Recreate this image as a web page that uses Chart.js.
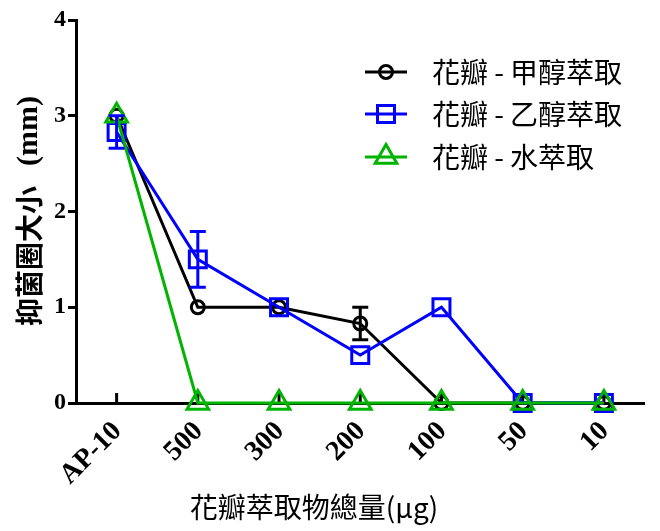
<!DOCTYPE html>
<html>
<head>
<meta charset="utf-8">
<script src="https://cdn.jsdelivr.net/npm/chart.js@4/dist/chart.umd.min.js"></script>
<style>
  html, body { margin: 0; padding: 0; background: #fff; }
  #wrap { width: 660px; height: 531px; }
</style>
</head>
<body>
<div id="wrap"><canvas id="c" width="660" height="531"></canvas></div>
<script>
// Categories: total petal extract amount (µg), plus the AP-10 control
const categories = ['AP-10', '500', '300', '200', '100', '50', '10'];

// Inhibition zone size (mm) per extract
const methanolValues = [3.0, 1.0, 1.0, 0.83, 0, 0, 0];
const methanolErrors = [0, 0, 0, 0.17, 0, 0, 0];
const ethanolValues  = [2.83, 1.5, 1.0, 0.5, 1.0, 0, 0];
const ethanolErrors  = [0.17, 0.29, 0, 0, 0, 0, 0];
const waterValues    = [3.0, 0, 0, 0, 0, 0, 0];
const waterErrors    = [0, 0, 0, 0, 0, 0, 0];

const yTicks = [0, 1, 2, 3, 4];

const seriesNames = ['花瓣-甲醇萃取', '花瓣-乙醇萃取', '花瓣-水萃取'];
const xTitle = '花瓣萃取物總量(μg)';
const yTitleCjk = '抑菌圈大小';
const yTitleUnit = '(mm)';

const BLACK = '#000000';
const BLUE = '#0000ff';
const GREEN = '#00b400';

const CJK = '"Noto Sans CJK TC", "Noto Sans CJK SC", sans-serif';
const SERIF = '"Liberation Serif", "DejaVu Serif", serif';

function makeDataset(label, values, errors, color, style, radius, order) {
  return {
    label: label,
    data: values,
    errors: errors,
    borderColor: color,
    backgroundColor: 'rgba(0,0,0,0)',
    borderWidth: 3,
    pointStyle: style,
    pointRadius: radius,
    pointBorderWidth: 3,
    pointBorderColor: color,
    pointBackgroundColor: 'rgba(0,0,0,0)',
    tension: 0,
    clip: false,
    order: order
  };
}

const datasets = [
  makeDataset(seriesNames[0], methanolValues, methanolErrors, BLACK, 'circle', 6.5, 2),
  makeDataset(seriesNames[1], ethanolValues, ethanolErrors, BLUE, 'rect', 12, 1),
  makeDataset(seriesNames[2], waterValues, waterErrors, GREEN, 'triangle', 12.5, 0)
];

// Marker helper used by the custom legend
function drawMarker(ctx, style, x, y, r) {
  ctx.beginPath();
  if (style === 'circle') {
    ctx.arc(x, y, r, 0, Math.PI * 2);
  } else if (style === 'rect') {
    const s = Math.SQRT1_2 * r;
    ctx.rect(x - s, y - s, 2 * s, 2 * s);
  } else if (style === 'triangle') {
    for (let i = 0; i < 3; i++) {
      const a = i * 2 * Math.PI / 3;
      const px = x + Math.sin(a) * r, py = y - Math.cos(a) * r;
      if (i === 0) ctx.moveTo(px, py); else ctx.lineTo(px, py);
    }
    ctx.closePath();
  }
  ctx.stroke();
}

// Legend label with a roomier dash between the two halves
function drawLegendLabel(ctx, text, x, y) {
  const k = text.indexOf('-');
  const head = text.slice(0, k), tail = text.slice(k + 1);
  ctx.fillText(head, x, y);
  const hw = ctx.measureText(head).width;
  const dw = ctx.measureText('-').width;
  const gap = 22;
  ctx.fillText('-', x + hw + (gap - dw) / 2, y);
  ctx.fillText(tail, x + hw + gap, y);
}

// Inward x ticks, slanted category labels, error bars, axis titles and legend
const decorations = {
  id: 'decorations',
  beforeDatasetsDraw(chart) {
    const ctx = chart.ctx;
    const xs = chart.scales.x, ys = chart.scales.y;
    ctx.save();
    ctx.strokeStyle = BLACK;
    ctx.lineWidth = 3;
    categories.forEach((label, i) => {
      const px = xs.getPixelForTick(i);
      ctx.beginPath();
      ctx.moveTo(px, ys.bottom);
      ctx.lineTo(px, ys.bottom - 10);
      ctx.stroke();

      // category label, slanted 45 degrees, ending just below its tick
      ctx.save();
      ctx.translate(px + 1, ys.bottom + 24);
      ctx.rotate(-Math.PI / 4);
      ctx.fillStyle = BLACK;
      ctx.font = 'bold 28px ' + SERIF;
      ctx.textAlign = 'right';
      ctx.textBaseline = 'middle';
      ctx.fillText(label, 0, 0);
      ctx.restore();
    });
    ctx.restore();
  },
  afterDatasetsDraw(chart) {
    const ctx = chart.ctx;
    const xs = chart.scales.x, ys = chart.scales.y;
    ctx.save();
    // error bars, bottom dataset first
    [0, 1, 2].forEach(di => {
      const ds = chart.data.datasets[di];
      ctx.strokeStyle = ds.borderColor;
      ctx.lineWidth = 3;
      ds.errors.forEach((e, i) => {
        if (!e) return;
        const px = xs.getPixelForValue(i);
        const top = ys.getPixelForValue(ds.data[i] + e);
        const bot = ys.getPixelForValue(ds.data[i] - e);
        ctx.beginPath();
        ctx.moveTo(px, top); ctx.lineTo(px, bot);
        ctx.moveTo(px - 8, top); ctx.lineTo(px + 8, top);
        ctx.moveTo(px - 8, bot); ctx.lineTo(px + 8, bot);
        ctx.stroke();
      });
    });

    // x axis title
    ctx.fillStyle = BLACK;
    ctx.font = '28px ' + CJK;
    ctx.textAlign = 'center';
    ctx.textBaseline = 'middle';
    ctx.fillText(xTitle, 314, 507);

    // y axis title (rotated)
    ctx.save();
    ctx.translate(29, 211);
    ctx.rotate(-Math.PI / 2);
    ctx.textBaseline = 'middle';
    ctx.font = 'bold 28px ' + CJK;
    const w1 = ctx.measureText(yTitleCjk).width;
    ctx.font = 'bold 30px ' + SERIF;
    const w2 = ctx.measureText(yTitleUnit).width;
    const space = 20;
    const sx = -(w1 + space + w2) / 2;
    ctx.textAlign = 'left';
    ctx.font = 'bold 28px ' + CJK;
    ctx.fillText(yTitleCjk, sx, 0);
    ctx.font = 'bold 30px ' + SERIF;
    ctx.fillText(yTitleUnit, sx + w1 + space, 0);
    ctx.restore();

    // legend
    const rows = [72, 114, 157];
    chart.data.datasets.forEach((ds, i) => {
      const y = rows[i];
      ctx.strokeStyle = ds.borderColor;
      ctx.lineWidth = 3;
      ctx.beginPath();
      ctx.moveTo(365, y); ctx.lineTo(407, y);
      ctx.stroke();
      drawMarker(ctx, ds.pointStyle, 386, y, ds.pointRadius);
      ctx.fillStyle = BLACK;
      ctx.font = '28px ' + CJK;
      ctx.textAlign = 'left';
      ctx.textBaseline = 'middle';
      drawLegendLabel(ctx, ds.label, 432, y);
    });
    ctx.restore();
  }
};

new Chart(document.getElementById('c'), {
  type: 'line',
  data: { labels: categories, datasets: datasets },
  options: {
    responsive: false,
    animation: false,
    devicePixelRatio: 1,
    layout: { padding: { top: 20, right: 10, left: 0, bottom: 0 } },
    plugins: { legend: { display: false }, tooltip: { enabled: false } },
    scales: {
      x: {
        type: 'category',
        offset: true,
        grid: { display: false },
        border: { display: true, color: BLACK, width: 3 },
        ticks: { display: false },
        afterFit(s) { s.height = 128; }
      },
      y: {
        min: 0, max: 4,
        afterBuildTicks(s) { s.ticks = yTicks.map(v => ({ value: v })); },
        grid: {
          drawOnChartArea: false, drawTicks: true,
          tickLength: 8, tickWidth: 3, tickColor: BLACK
        },
        border: { display: true, color: BLACK, width: 3 },
        ticks: {
          color: BLACK,
          font: { family: SERIF, size: 24, weight: 'bold' },
          padding: 2
        },
        afterFit(s) { s.width = 76; }
      }
    }
  },
  plugins: [decorations]
});
</script>
</body>
</html>
